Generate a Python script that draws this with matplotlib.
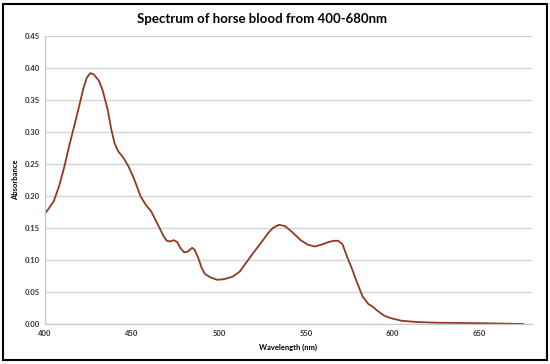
import matplotlib.pyplot as plt
from matplotlib.patches import Rectangle

# spectrum
wavelength = [400, 402, 405, 408, 411, 414, 417, 420, 422, 424, 426, 428, 431, 433, 436,
              438, 440, 442, 445, 448, 451, 455, 458, 461, 464, 468, 470, 472, 474, 476,
              478, 480, 482, 484.6, 486, 488, 490, 492, 495, 499, 503, 508, 512, 516,
              520, 524, 528, 531, 534.5, 538, 542, 547, 551, 555, 559, 563, 566, 568.5,
              571, 574, 576, 579, 582.6, 586, 588, 591, 595, 599, 605, 614, 625, 640,
              655, 675]
absorbance = [0.173, 0.180, 0.192, 0.215, 0.245, 0.280, 0.312, 0.345, 0.368, 0.385, 0.392, 0.390,
              0.380, 0.366, 0.335, 0.305, 0.282, 0.270, 0.260, 0.246, 0.228, 0.199, 0.186, 0.176,
              0.160, 0.138, 0.130, 0.129, 0.131, 0.128, 0.118, 0.112, 0.113, 0.119, 0.116, 0.104,
              0.088, 0.078, 0.073, 0.069, 0.070, 0.074, 0.082, 0.097, 0.112, 0.126, 0.141, 0.150,
              0.155, 0.153, 0.144, 0.131, 0.124, 0.121, 0.124, 0.128, 0.130, 0.130, 0.125, 0.103,
              0.090, 0.068, 0.043, 0.031, 0.028, 0.021, 0.013, 0.009, 0.005, 0.003, 0.002, 0.0015,
              0.001, 0.0]

xticks = [400, 450, 500, 550, 600, 650]
yticks = [0.00, 0.05, 0.10, 0.15, 0.20, 0.25, 0.30, 0.35, 0.40, 0.45]

plt.rcParams['font.family'] = ['Lato', 'DejaVu Sans']

fig = plt.figure(figsize=(5.5, 3.64), dpi=100)
ax = fig.add_axes([0.082, 0.110, 0.885, 0.791])

ax.plot(wavelength, absorbance, color='#8f3b1f', linewidth=1.3)

ax.set_xlim(400, 680)
ax.set_ylim(0, 0.45)
ax.set_xticks(xticks)
ax.set_yticks(yticks)
ax.set_yticklabels([f"{v:.2f}" for v in yticks])
ax.tick_params(labelsize=5.5, length=0, pad=4)
for lab in ax.get_xticklabels() + ax.get_yticklabels():
    lab.set_fontweight('bold')
    lab.set_color('#333333')

ax.grid(axis='y', color='#d0d0d0', linewidth=0.9)
ax.set_axisbelow(True)
for s in ['top', 'right']:
    ax.spines[s].set_visible(False)
for s in ['left', 'bottom']:
    ax.spines[s].set_color('#c8c8c8')
    ax.spines[s].set_linewidth(0.9)

fig.text(0.476, 0.948, "Spectrum of horse blood from 400-680nm", fontsize=9.5,
         fontweight='bold', ha='center', va='center')
ax.set_xlabel("Wavelength (nm)", fontsize=5.5, fontweight='bold', labelpad=5)
ax.set_ylabel("Absorbance", fontsize=5.5, fontweight='bold', labelpad=4)

# outer frame around the chart
fig.patches.append(Rectangle((0.006, 0.012), 0.988, 0.978, transform=fig.transFigure,
                             fill=False, edgecolor='black', linewidth=1.5))

fig.savefig("out.png", dpi=100)
